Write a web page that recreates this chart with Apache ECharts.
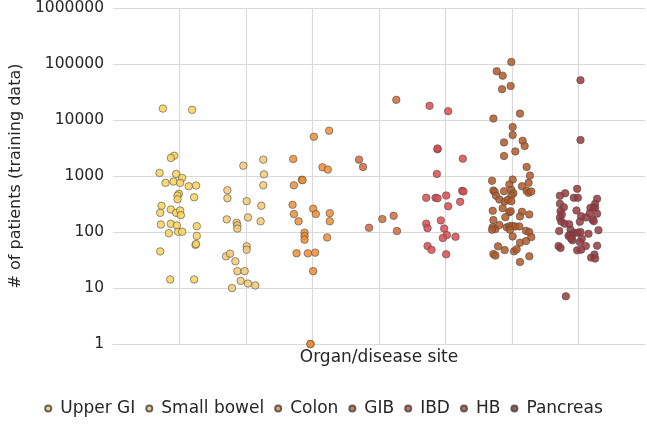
<!DOCTYPE html>
<html>
<head>
<meta charset="utf-8">
<script src="https://cdn.jsdelivr.net/npm/echarts@6/dist/echarts.min.js"></script>
<style>
  html, body { margin: 0; padding: 0; background: #fff; }
  #chart { width: 647px; height: 424px; }
</style>
</head>
<body>
<div id="chart"></div>
<script>
// category names (x = 1..7 on the value axis, points jittered around each)
var categories = ['Upper GI', 'Small bowel', 'Colon', 'GIB', 'IBD', 'HB', 'Pancreas']
var colors = ['#F9D25C', '#F3C873', '#EE8D35', '#D0693A', '#DD4A4F', '#B45826', '#9A383D']
var yTicks = [1, 10, 100, 1000, 10000, 100000, 1000000]

// [x position, number of patients]
var upperGI = [
  [0.75, 16000], [1.19, 15200], [0.92, 2300], [0.87, 2100], [0.70, 1135], [0.95, 1090],
  [1.04, 925], [0.79, 754], [0.91, 795], [1.01, 754], [1.14, 656], [1.25, 675],
  [0.99, 480], [0.97, 447], [0.97, 385], [1.22, 417], [0.73, 294], [0.71, 220],
  [0.87, 252], [0.95, 220], [1.01, 242], [1.02, 200], [0.72, 136], [0.87, 140],
  [0.96, 131], [1.26, 127], [0.84, 95], [0.98, 101], [1.04, 101], [1.26, 85],
  [1.24, 59], [1.25, 61], [0.71, 45], [0.86, 14.2], [1.22, 14.2]
]
var smallBowel = [
  [1.96, 1530], [2.26, 1960], [2.27, 1070], [2.26, 683], [1.72, 557], [1.72, 401],
  [2.01, 355], [2.23, 294], [1.71, 168], [1.86, 146], [1.87, 131], [1.87, 115],
  [2.03, 182], [2.22, 155], [2.01, 55.5], [2.01, 48.4], [1.70, 36.8], [1.76, 41],
  [1.84, 30], [1.87, 20], [1.98, 20], [1.92, 13.4], [2.03, 12], [2.14, 11.1], [1.79, 10]
]
var colon = [
  [2.71, 2015], [3.02, 5020], [3.25, 6430], [3.15, 1430], [3.23, 1300], [2.84, 860],
  [2.85, 840], [2.72, 683], [2.70, 306], [2.72, 209], [2.79, 155], [3.01, 260],
  [3.05, 209], [3.26, 217], [3.26, 155], [2.88, 97], [2.88, 85], [2.88, 73],
  [3.22, 80], [2.76, 41.6], [2.93, 41.6], [3.04, 42.8], [3.01, 20], [2.97, 1], [2.97, 1]
]
var gib = [
  [4.26, 22900], [3.70, 1960], [3.76, 1450], [3.85, 119], [4.05, 170], [4.22, 195], [4.27, 104]
]
var ibd = [
  [4.76, 17900], [5.04, 14400], [4.88, 3000], [4.88, 3100], [5.26, 2040], [4.87, 1090],
  [4.71, 408], [4.85, 408], [4.88, 400], [5.01, 448], [5.25, 543], [5.27, 530],
  [5.04, 289], [5.22, 346], [4.93, 161], [4.71, 141], [4.73, 117], [4.98, 115],
  [5.02, 88], [4.96, 78], [5.15, 82], [4.73, 56], [4.79, 48], [5.01, 40]
]
var hb = [
  [5.99, 108600], [5.77, 74000], [5.86, 62000], [5.85, 35500], [5.98, 40500], [6.12, 13000],
  [5.72, 10600], [6.01, 7480], [6.01, 5390], [5.88, 3980], [6.16, 4270], [6.19, 3430],
  [6.05, 2750], [5.88, 2280], [6.22, 1450], [6.27, 1017], [5.70, 820], [6.01, 863],
  [5.96, 703], [6.15, 656], [6.25, 754], [5.72, 550], [5.74, 521], [5.88, 535],
  [5.99, 566], [6.02, 492], [5.99, 448], [6.22, 543], [6.25, 500], [6.29, 528],
  [5.76, 442], [5.81, 380], [5.89, 350], [5.94, 376], [5.99, 355], [5.71, 239],
  [5.86, 266], [5.96, 226], [5.98, 235], [5.90, 184], [6.15, 230], [6.12, 190],
  [6.26, 206], [5.72, 163], [5.71, 122], [5.75, 113], [5.70, 110], [5.81, 133],
  [5.92, 121], [5.96, 126], [6.00, 129], [6.05, 126], [6.11, 126], [5.97, 110],
  [6.01, 83.5], [6.21, 105], [6.26, 99.6], [6.12, 64.5], [6.21, 68.9], [6.29, 81],
  [5.79, 55.4], [5.89, 47.6], [6.03, 45.2], [6.07, 49], [5.72, 40.4], [5.75, 37.9],
  [6.12, 29.1], [6.26, 36.8]
]
var pancreas = [
  [7.03, 51300], [7.03, 4390], [6.98, 590], [6.80, 492], [6.72, 442], [6.93, 408],
  [6.99, 408], [7.28, 391], [7.25, 319], [7.23, 277], [7.18, 270], [7.25, 270],
  [6.72, 319], [6.78, 277], [6.97, 242], [6.73, 235], [6.75, 206], [7.28, 212],
  [7.17, 217], [7.04, 192], [7.11, 182], [6.72, 180], [6.74, 154], [7.02, 152],
  [7.21, 166], [7.23, 156], [6.79, 141], [6.86, 138], [6.71, 104], [6.88, 110],
  [7.30, 108], [6.94, 97], [6.99, 97], [7.03, 100], [6.87, 89.5], [6.90, 85],
  [6.85, 85], [7.15, 93], [7.05, 76], [7.02, 66], [6.91, 71], [6.89, 76],
  [7.11, 56], [7.28, 57], [6.70, 56], [6.73, 52], [6.98, 47], [7.04, 48.4],
  [7.24, 39.5], [7.19, 34.9], [7.25, 33.5], [6.81, 7.1]
]
var seriesData = [upperGI, smallBowel, colon, gib, ibd, hb, pancreas]

var font = 'DejaVu Sans'
var chart = echarts.init(document.getElementById('chart'))

var series = []
for (var i = 0; i < categories.length; i++) {
  series.push({
    name: categories[i],
    type: 'scatter',
    data: seriesData[i],
    symbolSize: 7.5,
    itemStyle: {
      color: colors[i],
      opacity: 0.85,
      borderColor: '#4a4a4a',
      borderWidth: 0.7
    }
  })
}

chart.setOption({
  animation: false,
  color: colors,
  grid: { left: 113, right: 2, top: 7, bottom: 80 },
  legend: {
    data: categories,
    bottom: 2,
    left: 'center',
    icon: 'circle',
    itemWidth: 14,
    itemHeight: 6,
    itemGap: 10,
    textStyle: { fontFamily: font, fontSize: 17, color: '#262626' }
  },
  xAxis: {
    type: 'value',
    min: 0,
    max: 8,
    interval: 1,
    name: 'Organ/disease site',
    nameLocation: 'middle',
    nameGap: 5,
    nameTextStyle: { fontFamily: font, fontSize: 17, color: '#262626' },
    axisLabel: { show: false },
    axisTick: { show: false },
    axisLine: { show: true, lineStyle: { color: '#d9d9d9', width: 1.2 } },
    splitLine: { show: true, showMinLine: false, showMaxLine: false, lineStyle: { color: '#d9d9d9', width: 1.2 } }
  },
  yAxis: {
    type: 'log',
    logBase: 10,
    min: 1,
    max: 1000000,
    name: '# of patients (training data)',
    nameLocation: 'middle',
    nameGap: 87,
    nameTextStyle: { fontFamily: font, fontSize: 16, color: '#262626' },
    axisLine: { show: false },
    axisTick: { show: false },
    axisLabel: {
      fontFamily: font,
      fontSize: 15.5,
      color: '#262626',
      margin: 9,
      formatter: function (v) { return String(Math.round(v)) }
    },
    splitLine: { show: true, lineStyle: { color: '#d9d9d9', width: 1.2 } }
  },
  series: series
})
</script>
</body>
</html>
